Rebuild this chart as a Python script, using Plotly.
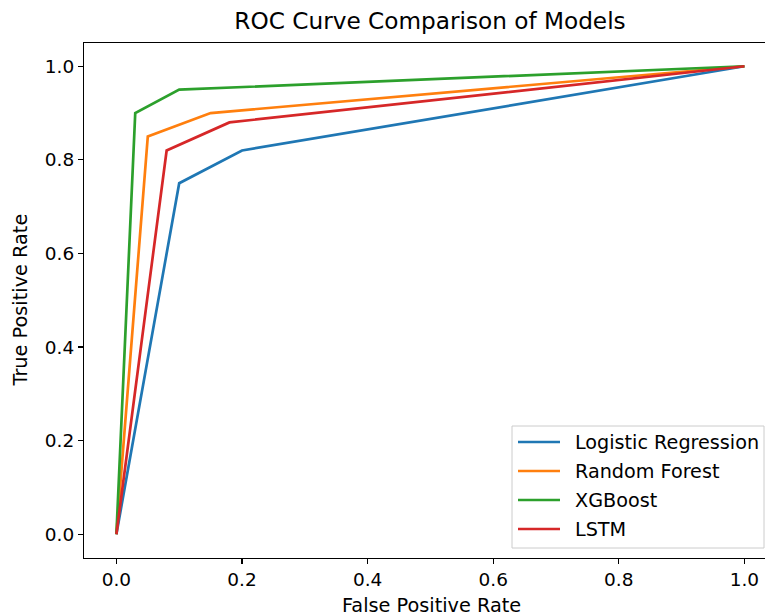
import plotly.graph_objects as go

models = ["Logistic Regression", "Random Forest", "XGBoost", "LSTM"]
colors = ["#1f77b4", "#ff7f0e", "#2ca02c", "#d62728"]
fpr_lr = [0.0, 0.10, 0.20, 1.0]
tpr_lr = [0.0, 0.75, 0.82, 1.0]
fpr_rf = [0.0, 0.05, 0.15, 1.0]
tpr_rf = [0.0, 0.85, 0.90, 1.0]
fpr_xgb = [0.0, 0.03, 0.10, 1.0]
tpr_xgb = [0.0, 0.90, 0.95, 1.0]
fpr_lstm = [0.0, 0.08, 0.18, 1.0]
tpr_lstm = [0.0, 0.82, 0.88, 1.0]
tick_vals = [0.0, 0.2, 0.4, 0.6, 0.8, 1.0]
tick_text = ["0.0", "0.2", "0.4", "0.6", "0.8", "1.0"]

series = [(fpr_lr, tpr_lr), (fpr_rf, tpr_rf), (fpr_xgb, tpr_xgb), (fpr_lstm, tpr_lstm)]

FONT = "DejaVu Sans"
W, H = 765, 616
PL, PT, PB = 84, 43, 558          # plot area edges in page pixels
PW, PH = W - PL, PB - PT


def px(x):
    return (x - PL) / PW


def py(y):
    return (PB - y) / PH


fig = go.Figure()
for i, (name, (fx, ty)) in enumerate(zip(models, series)):
    fig.add_trace(go.Scatter(x=fx, y=ty, mode="lines", name=name,
                             line=dict(color=colors[i], width=2.7),
                             showlegend=False, hoverinfo="skip"))

fig.update_layout(
    width=W, height=H,
    margin=dict(l=PL, r=0, t=PT, b=H - PB, pad=0),
    paper_bgcolor="white", plot_bgcolor="white",
    font=dict(family=FONT, color="#000000", size=18),
    title=dict(text="ROC Curve Comparison of Models", x=px(430), xref="paper",
               y=1 - 21 / H, yref="container", xanchor="center", yanchor="middle",
               font=dict(size=23.2, family=FONT, color="#000000")),
    xaxis=dict(range=[-0.0516, 1.0328], tickvals=tick_vals, ticktext=tick_text,
               showgrid=False, zeroline=False, showline=True, linecolor="black",
               linewidth=1.1, mirror=True, ticks="outside", ticklen=5, tickwidth=1.1,
               tickcolor="black", tickfont=dict(size=18.5, family=FONT)),
    yaxis=dict(range=[-0.0508, 1.0497], tickvals=tick_vals, ticktext=tick_text,
               showgrid=False, zeroline=False, showline=True, linecolor="black",
               linewidth=1.1, mirror=False, ticks="outside", ticklen=5, tickwidth=1.1,
               tickcolor="black", tickfont=dict(size=18.5, family=FONT)),
    showlegend=False,
    hovermode=False,
)

# axis titles
fig.add_annotation(text="False Positive Rate", xref="paper", yref="paper",
                   x=px(431), y=py(605), showarrow=False,
                   xanchor="center", yanchor="middle",
                   font=dict(size=19.3, family=FONT))
fig.add_annotation(text="True Positive Rate", xref="paper", yref="paper",
                   x=px(20), y=0.5, textangle=-90, showarrow=False,
                   xanchor="center", yanchor="middle",
                   font=dict(size=19.3, family=FONT))

# legend (matplotlib style)
fig.add_shape(type="rect", xref="paper", yref="paper",
              x0=px(512), x1=px(764), y0=py(548), y1=py(426),
              line=dict(color="#cccccc", width=1),
              fillcolor="rgba(255,255,255,0.8)", layer="above")
entry_y = [442, 471, 500, 529]
for i, name in enumerate(models):
    fig.add_shape(type="line", xref="paper", yref="paper",
                  x0=px(518), x1=px(560), y0=py(entry_y[i]), y1=py(entry_y[i]),
                  line=dict(color=colors[i], width=2.7), layer="above")
    fig.add_annotation(text=name, xref="paper", yref="paper",
                       x=px(573), y=py(entry_y[i]), showarrow=False,
                       xanchor="left", yanchor="middle",
                       font=dict(size=19.2, family=FONT, color="#000000"))

fig.write_html("out.html",
               config={"displayModeBar": False, "staticPlot": True},
               post_script="document.body.style.margin='0';"
                           "document.body.style.overflow='hidden';")
